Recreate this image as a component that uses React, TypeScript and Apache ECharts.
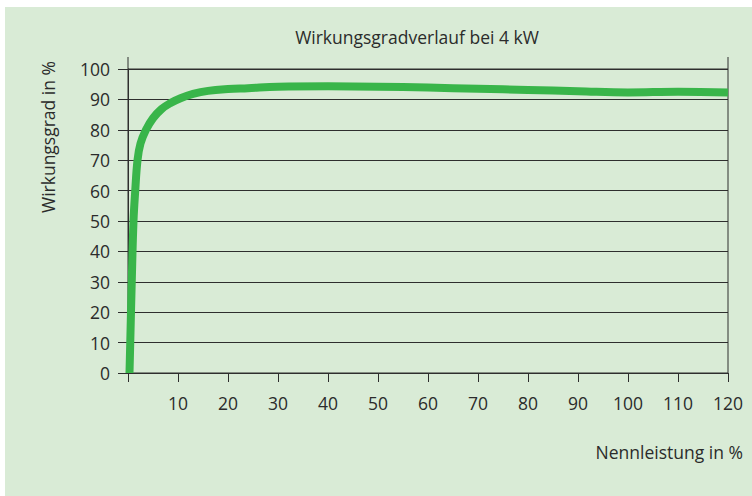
import React, { useEffect, useRef } from "react";
import * as echarts from "echarts";

const titleText = "Wirkungsgradverlauf bei 4 kW";
const yAxisName = "Wirkungsgrad in %";
const xAxisName = "Nennleistung in %";

const loadPct = [0.3, 0.45, 0.75, 1.1, 1.45, 1.9, 2.5, 3.6, 5.0, 6.7, 8.5, 10.5, 13, 16, 20, 24, 30, 40, 50, 60, 70, 80, 90, 100, 110, 120];
const efficiency = [0, 10, 30, 50, 60, 70, 75.5, 80, 83.8, 86.8, 88.8, 90.4, 91.8, 92.8, 93.4, 93.7, 94.2, 94.3, 94.2, 93.9, 93.5, 93.1, 92.7, 92.3, 92.5, 92.3];

const FONT = "'Open Sans', sans-serif";
const TEXT = "#2b2b2b";
const LINE = "#2e2e2e";
const BG = "#d9ebd6";
const GREEN = "#39b54a";
const FS = 17.5;

export default function App() {
  const ref = useRef<HTMLDivElement>(null);
  useEffect(() => {
    if (!ref.current) return;
    const chart = echarts.init(ref.current, undefined, { renderer: "svg" });
    const data = loadPct.map((x, i) => [x, efficiency[i]]);
    chart.setOption({
      animation: false,
      backgroundColor: "#ffffff",
      textStyle: { fontFamily: FONT },
      grid: { left: 128, top: 69, width: 600, height: 304, show: true, borderColor: LINE, borderWidth: 1, backgroundColor: "transparent" },
      graphic: [
        { type: "rect", z: -10, silent: true, shape: { x: 5, y: 7, width: 747, height: 489 }, style: { fill: BG } },
        { type: "text", x: 417, y: 37, style: { text: titleText, fontFamily: FONT, fontSize: FS, fill: TEXT, align: "center", verticalAlign: "middle" } },
        { type: "text", x: 48, y: 137, rotation: Math.PI / 2, style: { text: yAxisName, fontFamily: FONT, fontSize: FS, fill: TEXT, align: "center", verticalAlign: "middle" } },
        { type: "text", x: 743, y: 452, style: { text: xAxisName, fontFamily: FONT, fontSize: FS, fill: TEXT, align: "right", verticalAlign: "middle" } },
        { type: "line", shape: { x1: 128, y1: 57, x2: 128, y2: 69 }, style: { stroke: LINE, lineWidth: 1 } },
        { type: "line", shape: { x1: 728, y1: 57, x2: 728, y2: 69 }, style: { stroke: LINE, lineWidth: 1 } },
      ],
      xAxis: {
        type: "value",
        min: 0,
        max: 120,
        interval: 10,
        axisLine: { show: true, lineStyle: { color: LINE, width: 1 } },
        axisTick: { show: true, length: 9, lineStyle: { color: LINE, width: 1 } },
        splitLine: { show: false },
        axisLabel: {
          margin: 21,
          fontFamily: FONT,
          fontSize: FS,
          color: TEXT,
          formatter: (v: number) => (v === 0 ? "" : String(v)),
        },
      },
      yAxis: {
        type: "value",
        min: 0,
        max: 100,
        interval: 10,
        axisLine: { show: true, lineStyle: { color: LINE, width: 1 } },
        axisTick: { show: true, length: 10, lineStyle: { color: LINE, width: 1 } },
        splitLine: { show: true, lineStyle: { color: LINE, width: 1 } },
        axisLabel: { margin: 18, fontFamily: FONT, fontSize: FS, color: TEXT },
      },
      series: [
        {
          type: "line",
          data,
          showSymbol: false,
          smooth: 0.4,
          clip: true,
          lineStyle: { color: GREEN, width: 8, cap: "butt", join: "round" },
        },
      ],
    });
    return () => chart.dispose();
  }, []);
  return <div ref={ref} style={{ position: "absolute", left: 0, top: 0, width: 752, height: 496 }} />;
}
